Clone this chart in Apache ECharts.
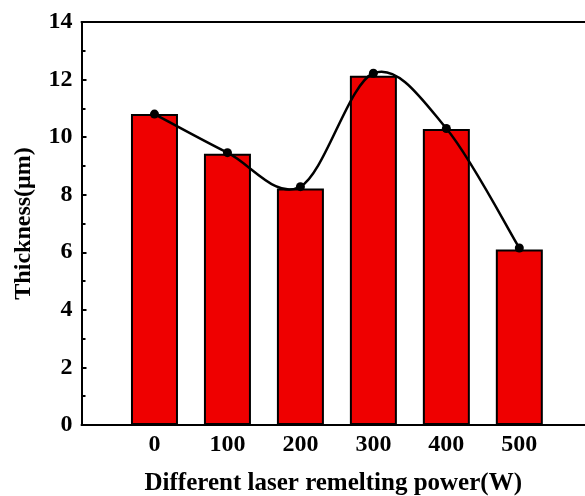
<!DOCTYPE html>
<html>
<head>
<meta charset="utf-8">
<script src="https://cdn.jsdelivr.net/npm/echarts@6/dist/echarts.min.js"></script>
<style>
  html, body { margin: 0; padding: 0; background: #fff; }
  #chart { width: 585px; height: 496px; }
</style>
</head>
<body>
<div id="chart"></div>
<script>
// laser power (W) and measured thickness
const powers = [0, 100, 200, 300, 400, 500];
const barValues = [10.8, 9.42, 8.22, 12.13, 10.28, 6.1];
const pointValues = [10.8, 9.46, 8.28, 12.22, 10.3, 6.15];
const yTicks = [0, 2, 4, 6, 8, 10, 12, 14];

const font = 'Liberation Serif, Times New Roman, serif';
const axisLine = { show: true, onZero: false, lineStyle: { color: '#000', width: 2 } };

// spline segment from point i to i+1 (Catmull-Rom, drawn as a bezier)
function renderSegment(params, api) {
  const i = params.dataIndex;
  if (i >= powers.length - 1) return;
  const pt = k => {
    k = Math.max(0, Math.min(powers.length - 1, k));
    return api.coord([powers[k], pointValues[k]]);
  };
  const p0 = pt(i - 1), p1 = pt(i), p2 = pt(i + 1), p3 = pt(i + 2);
  return {
    type: 'bezierCurve',
    shape: {
      x1: p1[0], y1: p1[1], x2: p2[0], y2: p2[1],
      cpx1: p1[0] + (p2[0] - p0[0]) / 6, cpy1: p1[1] + (p2[1] - p0[1]) / 6,
      cpx2: p2[0] - (p3[0] - p1[0]) / 6, cpy2: p2[1] - (p3[1] - p1[1]) / 6
    },
    style: { stroke: '#000', lineWidth: 2.5, fill: null }
  };
}

const chart = echarts.init(document.getElementById('chart'));
chart.setOption({
  animation: false,
  grid: { left: 81.5, right: 0, top: 22, bottom: 71, outerBoundsMode: 'none', containLabel: false },
  xAxis: [
    {
      type: 'value',
      min: -100, max: 590, interval: 100,
      name: 'Different laser remelting power(W)',
      nameLocation: 'middle',
      nameGap: 46,
      nameTextStyle: { fontFamily: font, fontWeight: 'bold', fontSize: 25, color: '#000' },
      axisLine: axisLine,
      axisTick: { show: false },
      splitLine: { show: false },
      axisLabel: {
        fontFamily: font, fontWeight: 'bold', fontSize: 24, color: '#000', margin: 8,
        showMaxLabel: false,
        formatter: v => powers.includes(v) ? String(v) : ''
      }
    },
    {
      type: 'value', position: 'top',
      min: -100, max: 590,
      axisLine: axisLine,
      axisTick: { show: false },
      axisLabel: { show: false },
      splitLine: { show: false }
    }
  ],
  yAxis: {
    type: 'value',
    min: yTicks[0], max: yTicks[yTicks.length - 1], interval: 2,
    name: 'Thickness(μm)',
    nameLocation: 'middle',
    nameGap: 46,
    nameTextStyle: { fontFamily: font, fontWeight: 'bold', fontSize: 24, color: '#000' },
    axisLine: axisLine,
    axisTick: { show: true, inside: true, length: 5, lineStyle: { color: '#000', width: 2 } },
    minorTick: { show: true, splitNumber: 2, length: 4, lineStyle: { color: '#000', width: 2 } },
    splitLine: { show: false },
    axisLabel: { fontFamily: font, fontWeight: 'bold', fontSize: 24, color: '#000', margin: 9 }
  },
  series: [
    {
      type: 'bar',
      barWidth: 47,
      data: powers.map((p, i) => [p, barValues[i]]),
      itemStyle: { color: '#ef0000', borderColor: '#000', borderWidth: 2 }
    },
    {
      type: 'custom',
      renderItem: renderSegment,
      data: powers.map((p, i) => [p, pointValues[i]]),
      z: 4
    },
    {
      type: 'scatter',
      data: powers.map((p, i) => [p, pointValues[i]]),
      symbol: 'circle',
      symbolSize: 9,
      itemStyle: { color: '#000', opacity: 1 },
      z: 5
    }
  ]
});
</script>
</body>
</html>
